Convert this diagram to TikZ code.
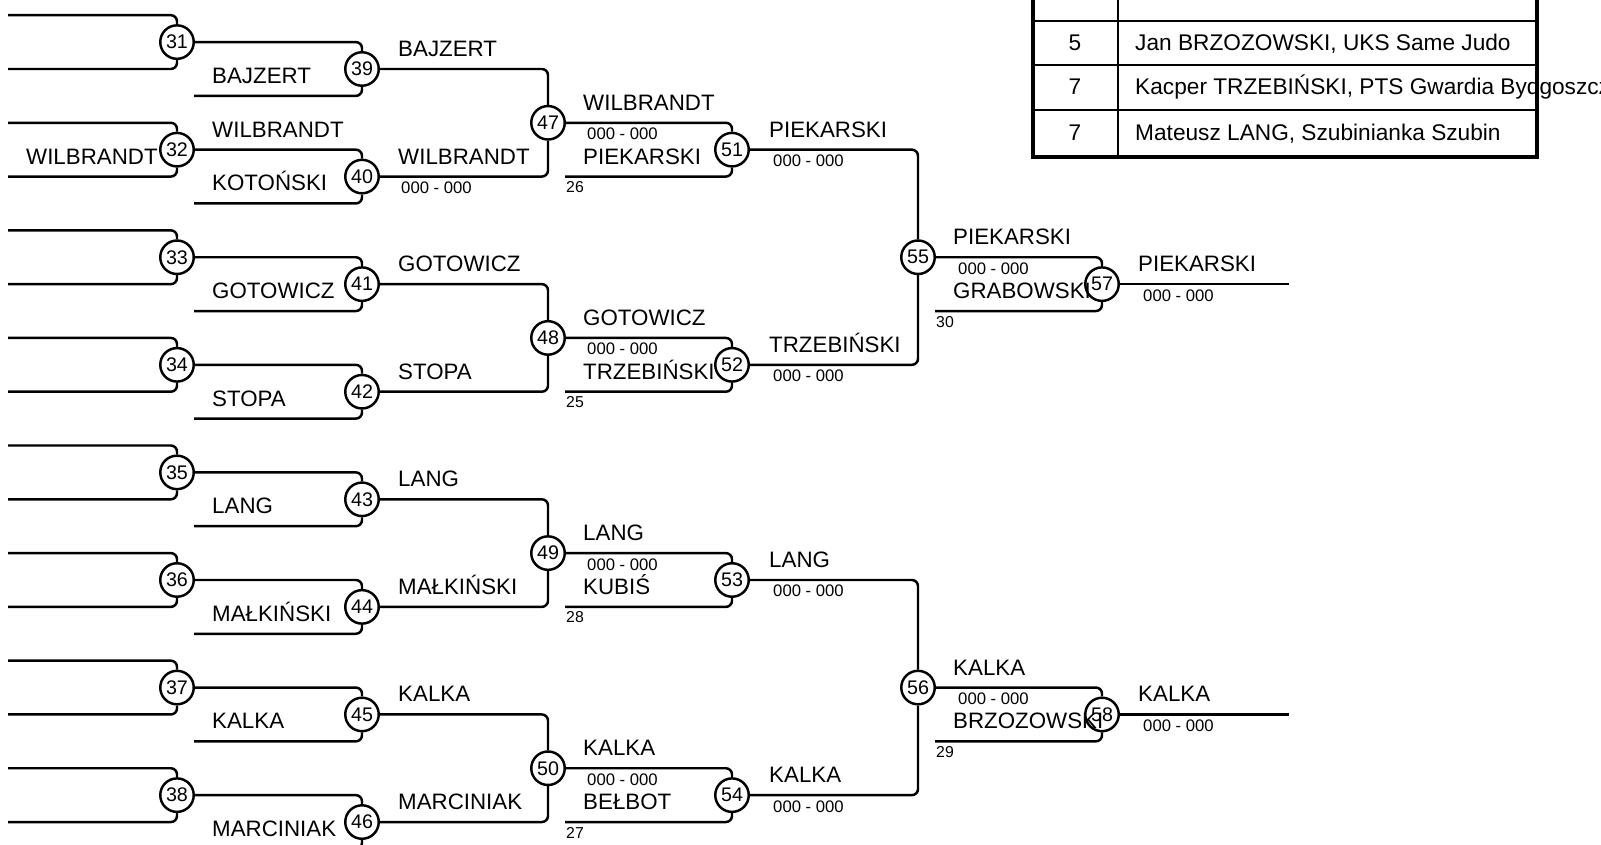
\documentclass[tikz,border=0pt]{standalone}
\usepackage{fontspec}
\setmainfont{Liberation Sans}

\begin{document}
\begin{tikzpicture}[x=0.02cm,y=-0.538cm,line width=1.4pt,
    mt/.style={draw,circle,minimum size=0.67cm,inner sep=0pt,font=\fontsize{11.2}{12}\selectfont},
    nm/.style={anchor=base west,inner sep=0pt,yshift=0.25cm,font=\fontsize{12.7}{14}\selectfont},
    sc/.style={anchor=base west,inner sep=0pt,yshift=-0.34cm,font=\fontsize{9.5}{11}\selectfont},
    ls/.style={anchor=base west,inner sep=0pt,yshift=-0.32cm,font=\fontsize{9}{11}\selectfont},
    tb/.style={anchor=base,inner sep=0pt,font=\fontsize{12.9}{15}\selectfont},
    lk/.style={rounded corners=3.5pt}]
  \useasboundingbox (0,-0.565) rectangle (1601,30.847);
  \clip (0,-0.565) rectangle (1601,30.847);
  % matches
  \foreach \n/\x/\rw in {31/177/1,32/177/5,33/177/9,34/177/13,35/177/17,36/177/21,37/177/25,38/177/29,
      39/362/2,40/362/6,41/362/10,42/362/14,43/362/18,44/362/22,45/362/26,46/362/30,
      47/548/4,48/548/12,49/548/20,50/548/28,51/732/5,52/732/13,53/732/21,54/732/29,
      55/918/9,56/918/25,57/1102/10,58/1102/26}
    \node[mt] (m\n) at (\x,\rw) {\n};
  % first round
  \foreach \n/\rw in {31/1,32/5,33/9,34/13,35/17,36/21,37/25,38/29}{
    \coordinate (a\n) at (8,{\rw-1});
    \coordinate (b\n) at (8,{\rw+1});
    \draw[lk] (a\n) -| (m\n.north);
    \draw[lk] (b\n) -| (m\n.south);
  }
  \foreach \n/\p/\rw in {39/31/2,40/32/6,41/33/10,42/34/14,43/35/18,44/36/22,45/37/26,46/38/30}{
    \coordinate (b\n) at (194,{\rw+1});
    \draw[lk] (m\p.east) -| (m\n.north);
    \draw[lk] (b\n) -| (m\n.south);
  }
  \foreach \n/\p/\q in {47/39/40,48/41/42,49/43/44,50/45/46,55/51/52,56/53/54}{
    \draw[lk] (m\p.east) -| (m\n.north);
    \draw[lk] (m\q.east) -| (m\n.south);
  }
  % repechage
  \foreach \n/\p/\x/\rw in {51/47/565/5,52/48/565/13,53/49/565/21,54/50/565/29,57/55/935/10,58/56/935/26}{
    \coordinate (b\n) at (\x,{\rw+1});
    \draw[lk] (m\p.east) -| (m\n.north);
    \draw[lk] (b\n) -| (m\n.south);
  }
  \coordinate (w57) at (1289,10);
  \coordinate (w58) at (1289,26);
  \draw (m57.east) -- (w57);
  \draw (m58.east) -- (w58);
  % names
  \foreach \x/\rw/\txt [count=\i] in {25/6/WILBRANDT,
      211/3/BAJZERT,211/5/WILBRANDT,211/7/KOTOŃSKI,211/11/GOTOWICZ,211/15/STOPA,
      211/19/LANG,211/23/MAŁKIŃSKI,211/27/KALKA,211/31/MARCINIAK,
      397/2/BAJZERT,397/6/WILBRANDT,397/10/GOTOWICZ,397/14/STOPA,
      397/18/LANG,397/22/MAŁKIŃSKI,397/26/KALKA,397/30/MARCINIAK,
      582/4/WILBRANDT,582/6/PIEKARSKI,582/12/GOTOWICZ,582/14/TRZEBIŃSKI,
      582/20/LANG,582/22/KUBIŚ,582/28/KALKA,582/30/BEŁBOT,
      768/5/PIEKARSKI,768/13/TRZEBIŃSKI,768/21/LANG,768/29/KALKA,
      952/9/PIEKARSKI,952/11/GRABOWSKI,952/25/KALKA,952/27/BRZOZOWSKI,
      1137/10/PIEKARSKI,1137/26/KALKA}
    \node[nm] (t\i) at (\x,\rw) {\txt};
  \foreach \x/\rw [count=\i] in {400/6,586/4,586/12,586/20,586/28,772/5,772/13,772/21,772/29,
      957/9,957/25,1142/10,1142/26}
    \node[sc] (s\i) at (\x,\rw) {000 - 000};
  \foreach \x/\rw/\txt in {565/6/26,565/14/25,565/22/28,565/30/27,935/11/30,935/27/29}
    \node[ls] (l\txt) at (\x,\rw) {\txt};
  % results
  \begin{scope}[y=-0.02cm,yshift=0.304cm]
    \node[tb] (p5) at (1075,51) {5};
    \node[tb] (p7a) at (1075,95) {7};
    \node[tb] (p7b) at (1075,141) {7};
    \node[tb,anchor=base west] (n5) at (1134,51) {Jan BRZOZOWSKI, UKS Same Judo};
    \node[tb,anchor=base west] (n7a) at (1134,95) {Kacper TRZEBIŃSKI, PTS Gwardia Bydgoszcz};
    \node[tb,anchor=base west] (n7b) at (1134,141) {Mateusz LANG, Szubinianka Szubin};
    \draw[line width=1.1pt] (1033,21) -- (1537,21) (1033,65) -- (1537,65) (1033,110) -- (1537,110)
      (1118,-5) -- (1118,157);
    \draw[line width=2.8pt] (1033,-5) -- (1033,157) -- (1537,157) -- (1537,-5);
  \end{scope}
\end{tikzpicture}
\end{document}
